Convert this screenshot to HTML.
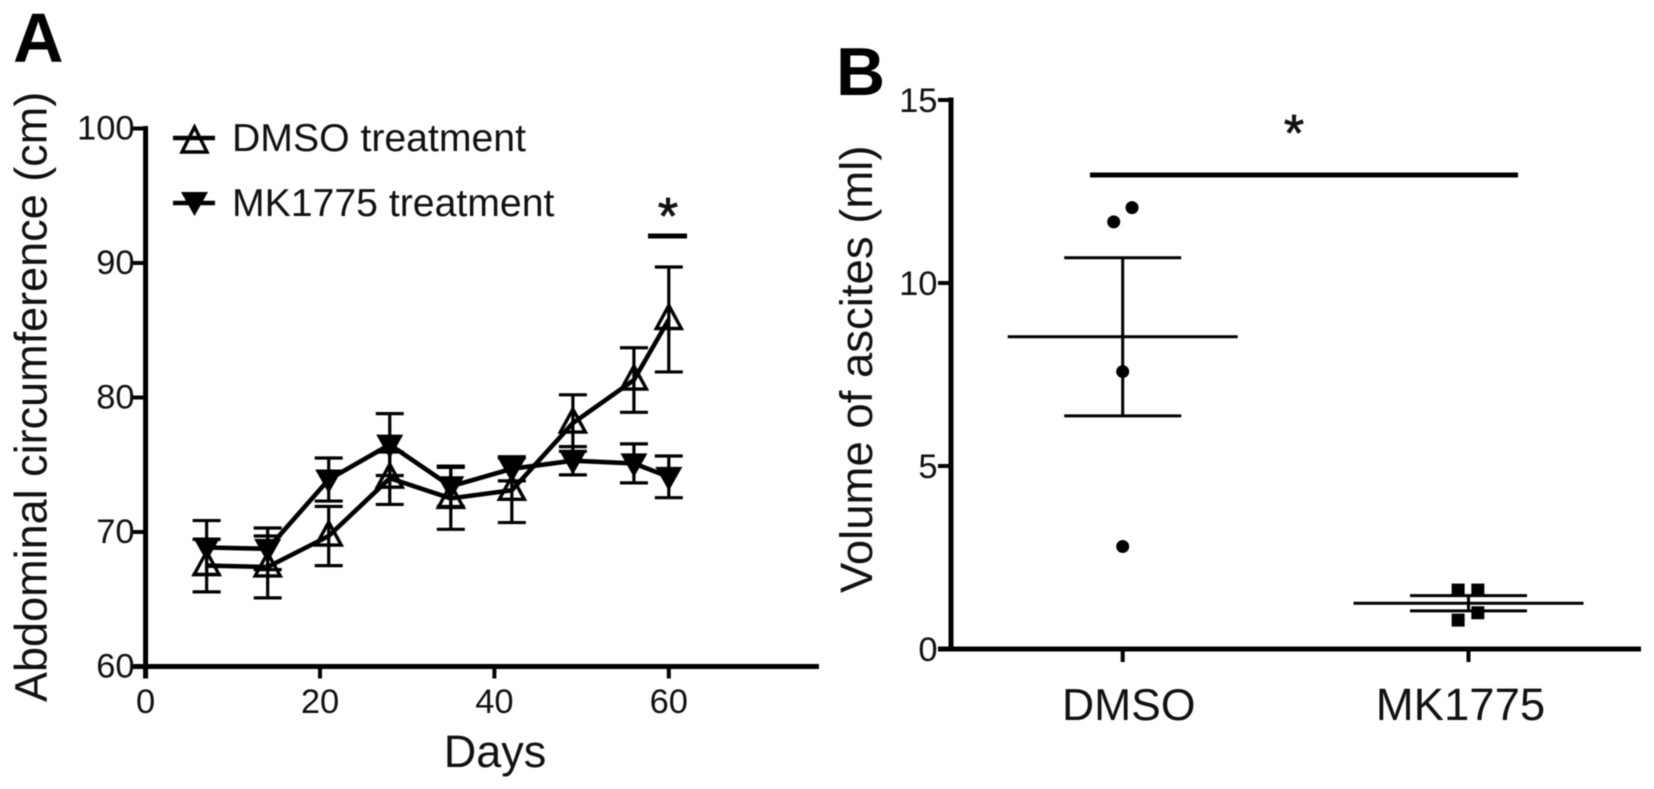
<!DOCTYPE html>
<html lang="en">
<head>
<meta charset="utf-8">
<title>Abdominal circumference and ascites volume</title>
<style>
html,body{margin:0;padding:0;background:#fff;width:1654px;height:789px;overflow:hidden}
svg{display:block;filter:blur(0.5px)}
text{font-family:"Liberation Sans",Arial,sans-serif;fill:#111}
</style>
</head>
<body>
<svg id="figure" xmlns="http://www.w3.org/2000/svg" width="1654" height="789" viewBox="0 0 1654 789">
  <rect x="0" y="0" width="1654" height="789" fill="#fff"/>
  <text x="13" y="62" font-size="70" font-weight="700" style="fill:#000">A</text>
  <text x="836" y="95" font-size="68" font-weight="700" style="fill:#000">B</text>
  <text transform="translate(46.5 702) rotate(-90)" font-size="45">Abdominal circumference (cm)</text>
  <text x="495" y="767" font-size="45" text-anchor="middle">Days</text>
  <text transform="translate(872 593) rotate(-90)" font-size="45.5">Volume of ascites (ml)</text>

  <g>
    <g>
      <line x1="173" x2="215" y1="138" y2="138" stroke="#000" stroke-width="4.5"/>
      <path d="M194.500 127L207 152H182Z" fill="none" stroke="#000" stroke-width="3.400"/>
      <text x="232" y="151" font-size="39.2">DMSO treatment</text>
    </g>
    <g>
      <line x1="173" x2="215" y1="203" y2="203" stroke="#000" stroke-width="4.5"/>
      <path d="M181 192H208L194.500 216Z" fill="#000"/>
      <text x="232" y="216" font-size="39.2">MK1775 treatment</text>
    </g>
  </g>

  <g>
    <line x1="648" x2="687" y1="236" y2="236" stroke="#000" stroke-width="5"/>
    <text x="668" y="234" font-size="52" text-anchor="middle" stroke="#111" stroke-width="0.8">*</text>
  </g>
  <g>
    <line x1="1090" x2="1518" y1="175" y2="175" stroke="#000" stroke-width="5"/>
    <text x="1294" y="151" font-size="52" text-anchor="middle" stroke="#111" stroke-width="0.8">*</text>
  </g>
  <g id="chart-a"></g>
  <g id="chart-b"></g>
</svg>
<script>
// Panel A data
const days = [7, 14, 21, 28, 35, 42, 49, 56, 60];
const dmsoMean = [67.5, 67.4, 69.7, 74.0, 72.5, 73.1, 78.1, 81.3, 85.8];
const dmsoSem = [1.95, 2.3, 2.2, 1.95, 2.3, 2.4, 2.1, 2.4, 3.9];
const mk1775Mean = [68.85, 68.75, 73.9, 76.5, 73.4, 74.7, 75.3, 75.1, 74.1];
const mk1775Sem = [2.0, 1.55, 1.6, 2.3, 1.5, 0.9, 1.05, 1.45, 1.55];
const aXTicks = [0, 20, 40, 60];
const aYTicks = [60, 70, 80, 90, 100];

// Panel B data
const groups = ['DMSO', 'MK1775'];
const dmsoVolumes = [12.06, 11.67, 7.58, 2.8];
const dmsoJitter = [0.027, -0.026, 0, 0];
const mk1775Volumes = [1.61, 1.61, 0.99, 0.79];
const mk1775Jitter = [-0.03, 0.027, 0.027, -0.03];
const groupMeans = [8.53, 1.25];
const groupSems = [2.16, 0.21];
const bYTicks = [0, 5, 10, 15];

const NS = 'http://www.w3.org/2000/svg';
function mk(parent, tag, attrs, txt) {
  const el = document.createElementNS(NS, tag);
  for (const k in attrs) el.setAttribute(k, attrs[k]);
  if (txt !== undefined) el.textContent = txt;
  parent.appendChild(el);
  return el;
}

// Axis functions
const ax = d => 145.6 + d * 8.72;
const ay = v => 666.5 - (v - 60) * 13.45;
const bx = i => 1122.7 + i * 345.8;
const by = v => 649 - v * 36.6;

const A = document.getElementById('chart-a');
const B = document.getElementById('chart-b');

// Panel A axes
let el;
el = mk(A, 'line', {x1: ax(0), x2: ax(0), y1: ay(100) - 2.5, y2: ay(60) + 12, stroke: '#000', 'stroke-width': 5});


el = mk(A, 'line', {x1: ax(0) - 13, x2: 819, y1: ay(60), y2: ay(60), stroke: '#000', 'stroke-width': 5});



aYTicks.forEach(t => {
  let e = mk(A, 'line', {x1: ax(0) - 13, x2: ax(0), y1: ay(t), y2: ay(t), stroke: '#000', 'stroke-width': 4});
  
  
  e = mk(A, 'text', {x: ax(0) - 11, y: ay(t) + 11, 'font-size': 34.5, 'text-anchor': 'end'}, String(t));
  
  
});
aXTicks.forEach(t => {
  let e = mk(A, 'line', {x1: ax(t), x2: ax(t), y1: ay(60), y2: ay(60) + 12, stroke: '#000', 'stroke-width': 4});
  
  
  e = mk(A, 'text', {x: ax(t), y: 713, 'font-size': 34.5, 'text-anchor': 'middle'}, String(t));
  
  
});

// Panel A series
function drawSeries(mean, sem, kind) {
  const g = mk(A, 'g', {});
  
  

  const pts = days.map((d, i) => ax(d).toFixed(1) + ',' + ay(mean[i]).toFixed(1)).join(' ');
  const ln = mk(g, 'polyline', {points: pts, fill: 'none', stroke: '#000', 'stroke-width': 4.6, 'stroke-linejoin': 'round'});
  
  

  days.forEach((d, i) => {
    const x = ax(d), hi = ay(mean[i] + sem[i]), lo = ay(mean[i] - sem[i]), y = ay(mean[i]);
    const err = mk(g, 'path', {d: `M${x} ${hi}V${lo}M${x - 14} ${hi}H${x + 14}M${x - 14} ${lo}H${x + 14}`, fill: 'none', stroke: '#000', 'stroke-width': 3.2});
    
    

    const shape = kind === 'dmso'
      ? `M${x} ${y - 14}L${x + 12.500} ${y + 9}H${x - 12.500}Z`
      : `M${x - 13.500} ${y - 10}H${x + 13.500}L${x} ${y + 14}Z`;
    const mark = mk(g, 'path', kind === 'dmso'
      ? {d: shape, fill: 'none', stroke: '#000', 'stroke-width': 3.4}
      : {d: shape, fill: '#000'});
    
    
  });
}
drawSeries(dmsoMean, dmsoSem, 'dmso');
drawSeries(mk1775Mean, mk1775Sem, 'mk1775');

// Panel B axes
el = mk(B, 'line', {x1: 951, x2: 951, y1: by(15) - 2.5, y2: by(0), stroke: '#000', 'stroke-width': 5});


el = mk(B, 'line', {x1: 938, x2: 1641, y1: by(0), y2: by(0), stroke: '#000', 'stroke-width': 5});



bYTicks.forEach(t => {
  let e = mk(B, 'line', {x1: 938, x2: 951, y1: by(t), y2: by(t), stroke: '#000', 'stroke-width': 4});
  
  
  e = mk(B, 'text', {x: 937.5, y: by(t) + 12, 'font-size': 34.5, 'text-anchor': 'end'}, String(t));
  
  
});
groups.forEach((name, i) => {
  let e = mk(B, 'line', {x1: bx(i), x2: bx(i), y1: by(0), y2: by(0) + 13, stroke: '#000', 'stroke-width': 4});
  
  
  e = mk(B, 'text', {x: bx(i) + (i ? -8 : 6), y: 720, 'font-size': i ? 45.5 : 44.5, 'text-anchor': 'middle'}, name);
  
  

  const m = groupMeans[i], s = groupSems[i], x = bx(i);
  e = mk(B, 'line', {x1: x - 115, x2: x + 115, y1: by(m), y2: by(m), stroke: '#000', 'stroke-width': 3});
  
  
  e = mk(B, 'path', {d: `M${x} ${by(m + s)}V${by(m - s)}M${x - 58.500} ${by(m + s)}H${x + 58.500}M${x - 58.500} ${by(m - s)}H${x + 58.500}`, fill: 'none', stroke: '#000', 'stroke-width': 3});
  
  
});

// Panel B points
dmsoVolumes.forEach((v, i) => {
  const c = mk(B, 'circle', {cx: bx(0 + dmsoJitter[i]), cy: by(v), r: 6.5, fill: '#000'});
  
  
});
mk1775Volumes.forEach((v, i) => {
  const r = mk(B, 'rect', {x: bx(1 + mk1775Jitter[i]) - 6.5, y: by(v) - 6.5, width: 13, height: 13, fill: '#000'});
  
  
});
</script>
</body>
</html>
